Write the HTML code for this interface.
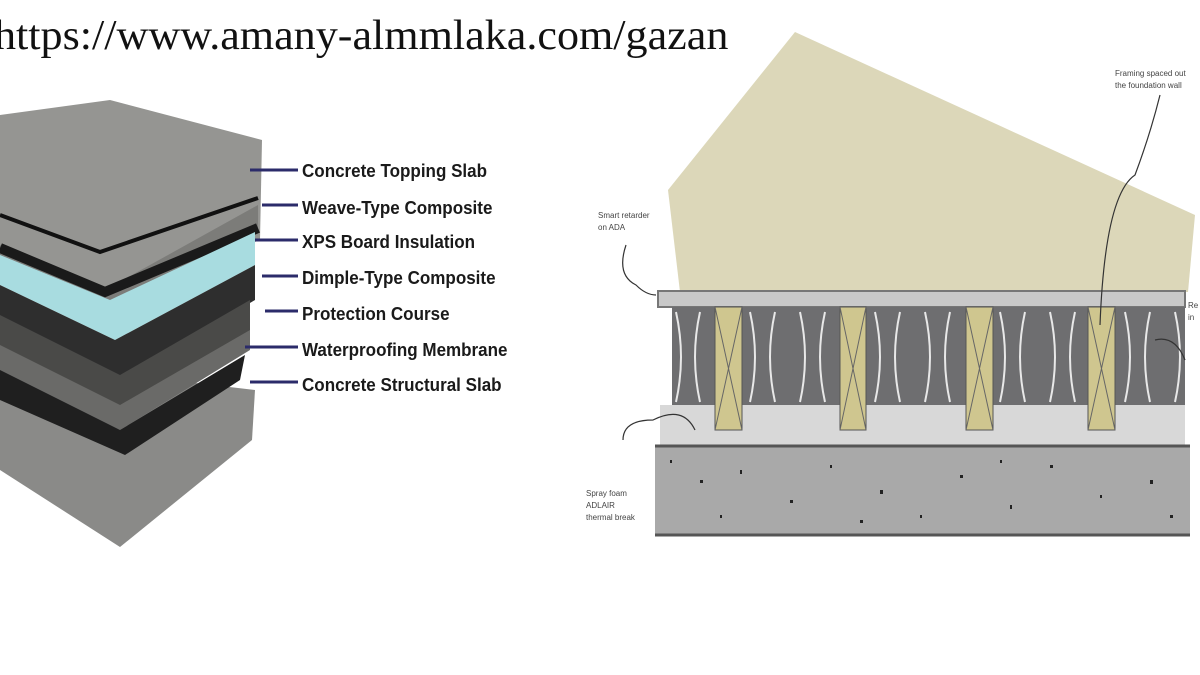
<!DOCTYPE html>
<html><head><meta charset="utf-8"><style>
body{margin:0;width:1200px;height:675px;background:#fff;overflow:hidden;position:relative;font-family:"Liberation Sans",sans-serif}
.url{position:absolute;left:-6px;top:12px;font-family:"Liberation Serif",serif;font-size:42px;color:#111;white-space:nowrap;transform:scaleX(1.05);transform-origin:left}
.lbl{position:absolute;left:302px;font-weight:bold;font-size:18.5px;color:#1a1a1a;transform:scaleX(0.92);transform-origin:left;white-space:nowrap}
.sm{position:absolute;font-size:8px;color:#444;line-height:12px;white-space:nowrap}
</style></head><body>
<svg width="1200" height="675" style="position:absolute;left:0;top:0">
<polygon points="0,470 120,547 252,440 255,390 0,360" fill="#8a8a88"/>
<polygon points="0,115 110,100 262,140 260,240 105,300 0,260" fill="#959592"/>
<polygon points="0,245 105,290 258,205 258,230 110,320 0,275" fill="#7c7c79"/>
<polyline points="0,215 100,252 258,198" fill="none" stroke="#111" stroke-width="4"/>
<polyline points="0,248 105,292 258,228" fill="none" stroke="#1a1a1a" stroke-width="10"/>
<polygon points="0,255 110,300 255,232 255,265 115,340 0,285" fill="#a8dce0"/>
<polygon points="0,285 115,340 255,265 255,300 120,380 0,320" fill="#2e2e2e"/>
<polygon points="0,315 120,375 250,300 250,335 120,410 0,355" fill="#4a4a48"/>
<polygon points="0,345 120,405 250,330 250,350 120,430 0,375" fill="#6a6a68"/>
<polygon points="0,370 120,430 245,355 240,380 125,455 0,400" fill="#1f1f1f"/>
<g stroke="#2b2b6a" stroke-width="3">
<line x1="250" y1="170" x2="298" y2="170"/><line x1="262" y1="205" x2="298" y2="205"/>
<line x1="255" y1="240" x2="298" y2="240"/><line x1="262" y1="276" x2="298" y2="276"/>
<line x1="265" y1="311" x2="298" y2="311"/><line x1="245" y1="347" x2="298" y2="347"/>
<line x1="250" y1="382" x2="298" y2="382"/></g>
<polygon points="795,32 1195,215 1188,292 680,292 668,190" fill="#dcd7b9"/>
<rect x="658" y="291" width="527" height="16" fill="#c9c9c9" stroke="#777" stroke-width="2"/>
<rect x="672" y="307" width="513" height="100" fill="#6e6e70"/>
<g fill="none" stroke="#e8e8e8" stroke-width="2">
<path d="M676 312 q10 45 0 90 M700 312 q-10 45 0 90 M750 312 q10 45 0 90 M775 312 q-10 45 0 90 M800 312 q10 45 0 90 M825 312 q-10 45 0 90 M875 312 q10 45 0 90 M900 312 q-10 45 0 90 M925 312 q10 45 0 90 M950 312 q-10 45 0 90 M1000 312 q10 45 0 90 M1025 312 q-10 45 0 90 M1050 312 q10 45 0 90 M1075 312 q-10 45 0 90 M1125 312 q10 45 0 90 M1150 312 q-10 45 0 90 M1175 312 q10 45 0 90"/></g>
<rect x="660" y="405" width="525" height="40" fill="#d8d8d8"/>
<g fill="#cfc68f" stroke="#555" stroke-width="1">
<rect x="715" y="307" width="27" height="123"/><rect x="840" y="307" width="26" height="123"/>
<rect x="966" y="307" width="27" height="123"/><rect x="1088" y="307" width="27" height="123"/></g>
<g stroke="#666" stroke-width="1">
<path d="M715 307 L742 430 M742 307 L715 430 M840 307 L866 430 M866 307 L840 430 M966 307 L993 430 M993 307 L966 430 M1088 307 L1115 430 M1115 307 L1088 430"/></g>
<rect x="655" y="445" width="535" height="90" fill="#a9a9a9"/>
<line x1="655" y1="446" x2="1190" y2="446" stroke="#555" stroke-width="3"/>
<line x1="655" y1="535" x2="1190" y2="535" stroke="#555" stroke-width="3"/>
<g fill="#222">
<rect x="670" y="460" width="2" height="3"/><rect x="700" y="480" width="3" height="3"/><rect x="740" y="470" width="2" height="4"/><rect x="790" y="500" width="3" height="3"/><rect x="830" y="465" width="2" height="3"/><rect x="880" y="490" width="3" height="4"/><rect x="920" y="515" width="2" height="3"/><rect x="960" y="475" width="3" height="3"/><rect x="1010" y="505" width="2" height="4"/><rect x="1050" y="465" width="3" height="3"/><rect x="1100" y="495" width="2" height="3"/><rect x="1150" y="480" width="3" height="4"/><rect x="720" y="515" width="2" height="3"/><rect x="860" y="520" width="3" height="3"/><rect x="1000" y="460" width="2" height="3"/><rect x="1170" y="515" width="3" height="3"/></g>
<g fill="none" stroke="#333" stroke-width="1.2">
<path d="M626 245 q-10 30 10 40 q10 10 20 10"/>
<path d="M1160 95 q-10 40 -25 80 q-30 20 -35 150"/>
<path d="M623 440 q0 -20 30 -20 q30 -15 42 10"/>
<path d="M1155 340 q20 -5 30 20"/></g>
</svg>
<div class="url">https://www.amany-almmlaka.com/gazan</div>
<div class="lbl" style="top:160px">Concrete Topping Slab</div>
<div class="lbl" style="top:197px">Weave-Type Composite</div>
<div class="lbl" style="top:231px">XPS Board Insulation</div>
<div class="lbl" style="top:267px">Dimple-Type Composite</div>
<div class="lbl" style="top:303px">Protection Course</div>
<div class="lbl" style="top:339px">Waterproofing Membrane</div>
<div class="lbl" style="top:374px">Concrete Structural Slab</div>
<div class="sm" style="left:1115px;top:68px">Framing spaced out<br>the foundation wall</div>
<div class="sm" style="left:598px;top:210px">Smart retarder<br>on ADA</div>
<div class="sm" style="left:586px;top:488px">Spray foam<br>ADLAIR<br>thermal break</div>
<div class="sm" style="left:1188px;top:300px">Re<br>in</div>
</body></html>
